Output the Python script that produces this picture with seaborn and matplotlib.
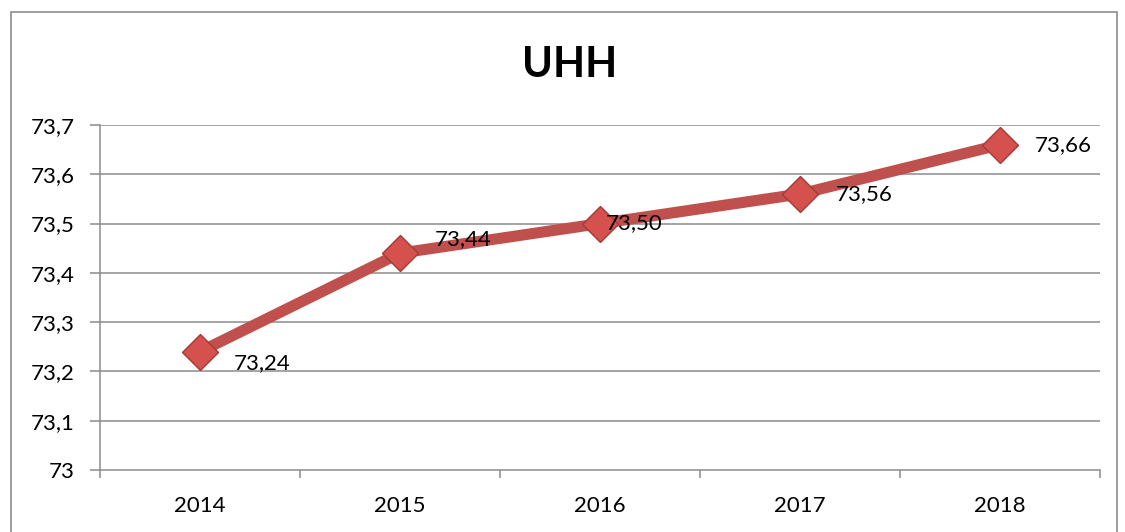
import matplotlib
matplotlib.use("Agg")
import matplotlib.pyplot as plt
import seaborn as sns
import pandas as pd
from matplotlib.patches import Rectangle
from matplotlib.ticker import FixedLocator

years = ["2014", "2015", "2016", "2017", "2018"]
uhh = [73.24, 73.44, 73.50, 73.56, 73.66]
value_labels = ["73,24", "73,44", "73,50", "73,56", "73,66"]
y_ticks = [73.0, 73.1, 73.2, 73.3, 73.4, 73.5, 73.6, 73.7]
y_tick_labels = ["73", "73,1", "73,2", "73,3", "73,4", "73,5", "73,6", "73,7"]
title = "UHH"

# label offsets (points) relative to each marker
label_dx = [24, 25, 4, 26, 25]
label_dy = [-8, 10, 0, 0, 0]

sns.set_theme(style="white")
plt.rcParams["font.family"] = ["Lato", "DejaVu Sans"]

df = pd.DataFrame({"year": years, "uhh": uhh})

fig = plt.figure(figsize=(11.25, 5.32), dpi=100)
ax = fig.add_axes([100 / 1125, 62 / 532, 1000 / 1125, 345 / 532])

grid_c = "#8c8c8c"
for yv in y_ticks[1:]:
    ax.axhline(yv, color=grid_c, lw=1.1, zorder=0)

red = "#C0504D"
sns.lineplot(data=df, x="year", y="uhh", ax=ax, color=red, lw=8,
             marker="D", markersize=18, markerfacecolor="#D4514E",
             markeredgecolor="#A53936", markeredgewidth=1.0, zorder=3,
             sort=False)

for i, (v, lab) in enumerate(zip(uhh, value_labels)):
    ax.annotate(lab, (i, v), xytext=(label_dx[i], label_dy[i]),
                textcoords="offset points", ha="left", va="center",
                fontsize=16, color="black", zorder=5)

ax.set_xlim(-0.5, 4.5)
ax.set_ylim(73.0, 73.7)
ax.set_yticks(y_ticks)
ax.set_yticklabels(y_tick_labels)
ax.set_xticks(range(len(years)))
ax.set_xticklabels(years)
ax.xaxis.set_minor_locator(FixedLocator([i - 0.5 for i in range(len(years) + 1)]))
ax.tick_params(axis="x", which="major", length=0, pad=19, labelsize=16, colors="black")
ax.tick_params(axis="x", which="minor", length=6, width=1.1, color=grid_c, direction="out", bottom=True)
ax.tick_params(axis="y", which="major", length=7, width=1.1, color=grid_c, pad=11,
               labelsize=16, labelcolor="black", left=True)
ax.set_xlabel("")
ax.set_ylabel("")

for s in ["top", "right"]:
    ax.spines[s].set_visible(False)
for s in ["left", "bottom"]:
    ax.spines[s].set_color(grid_c)
    ax.spines[s].set_linewidth(1.1)

fig.text(570 / 1125, 1 - 65 / 532, title, ha="center", va="center",
         fontsize=30, fontweight="bold", color="black")

fig.patches.append(Rectangle((11 / 1125, -0.1), (1117 - 11) / 1125, 1.1 - 12 / 532,
                             transform=fig.transFigure, fill=False,
                             edgecolor="#8c8c8c", lw=1.2))

fig.savefig("out.png", dpi=100)
